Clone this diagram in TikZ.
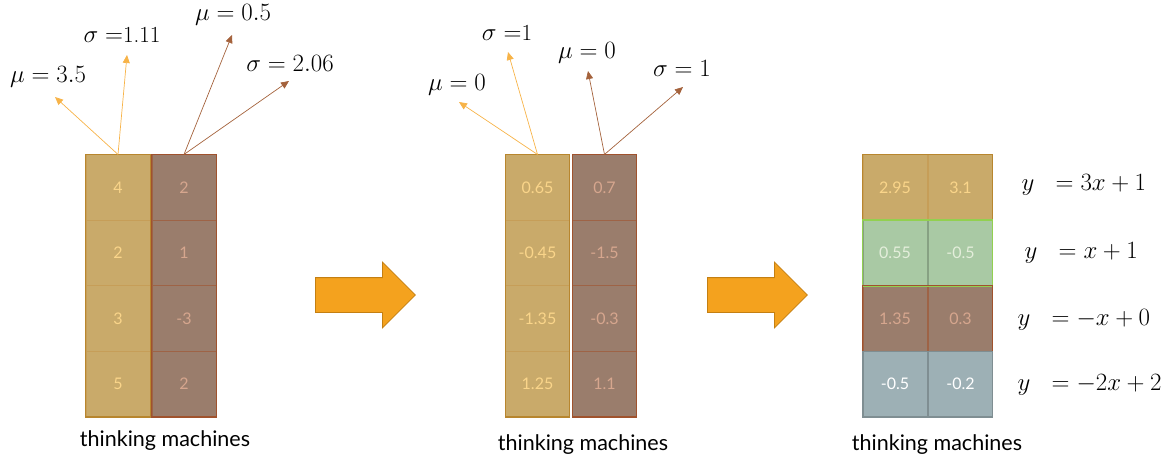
\documentclass[tikz,border=0pt]{standalone}
\usepackage{fontspec}
\setsansfont{Lato}
\usetikzlibrary{positioning}
\usetikzlibrary{arrows.meta}
\usetikzlibrary{shapes.arrows}
\definecolor{goldfill}{HTML}{C9AA6A}
\definecolor{golddraw}{HTML}{B8862E}
\definecolor{goldtext}{HTML}{FAD58A}
\definecolor{brownfill}{HTML}{9A7D6C}
\definecolor{browndraw}{HTML}{A0522D}
\definecolor{browntext}{HTML}{D6A68E}
\definecolor{greenfill}{HTML}{A9C9A4}
\definecolor{greendraw}{HTML}{92D050}
\definecolor{greentext}{HTML}{E4EEDB}
\definecolor{slatefill}{HTML}{9DB0B5}
\definecolor{slatedraw}{HTML}{7F8E92}
\definecolor{arroworange}{HTML}{F4A21E}
\definecolor{arrowdraw}{HTML}{C47F12}
\definecolor{statgold}{HTML}{F7B348}
\definecolor{statbrown}{HTML}{A4623C}
\tikzset{x=1pt, y=-1pt,
    cell/.style={
        draw, line width=0.6pt,
        minimum width=64pt, minimum height=65.5pt,
        inner sep=0pt,
        font=\sffamily\fontsize{16}{16}\selectfont},
    goldcell/.style={cell, fill=goldfill, draw=golddraw!80!white, text=goldtext},
    browncell/.style={cell, fill=brownfill, draw=browndraw!60!brownfill, text=browntext},
    greencell/.style={cell, fill=greenfill, draw=greenfill!80!black, text=greentext},
    slatecell/.style={cell, fill=slatefill, draw=slatedraw, text=white},
    stat/.style={font=\fontsize{23}{23}\selectfont},
    eqn/.style={font=\fontsize{24}{24}\selectfont, anchor=west},
    caption/.style={font=\sffamily\fontsize{21.5}{21.5}\selectfont},
    goldstat/.style={draw=statgold, -{Triangle[length=8pt,width=7pt]}, line width=0.7pt},
    brownstat/.style={draw=statbrown, -{Triangle[length=8pt,width=7pt]}, line width=0.7pt},
    bigarrow/.style={
        single arrow, draw=arrowdraw, fill=arroworange, line width=0.8pt,
        inner xsep=0pt, inner ysep=17pt,
        single arrow head extend=15.5pt,
        minimum height=100pt, anchor=tail}}

\begin{document}
\begin{tikzpicture}
    \useasboundingbox (0,0) rectangle (1171,461);

    % raw inputs
    \foreach \v [count=\i] in {4,2,3,5}
        \node[goldcell] (rawL\i) at (118,{187.5+65.5*(\i-1)}) {\v};
    \foreach \v [count=\i] in {2,1,-3,2}
        \node[browncell] (rawR\i) at (184,{187.5+65.5*(\i-1)}) {\v};
    \draw[golddraw, line width=1.2pt] (rawL1.north west) rectangle (rawL4.south east);
    \draw[browndraw, line width=1.2pt] (rawR1.north west) rectangle (rawR4.south east);
    \node[caption] (rawcap) at (165,441) {thinking machines};

    \node[stat] (rawmuL) at (48,77) {$\mu = 3.5$};
    \node[stat] (rawsdL) at (122,35) {$\sigma =$1.11};
    \node[stat] (rawmuR) at (233,15) {$\mu = 0.5$};
    \node[stat] (rawsdR) at (290,63) {$\sigma = 2.06$};
    \coordinate (rawmuLtip) at (55,97);
    \coordinate (rawsdLtip) at (127,55);
    \coordinate (rawmuRtip) at (232,35);
    \coordinate (rawsdRtip) at (289,81);
    \draw[goldstat] (rawL1.north) -- (rawmuLtip);
    \draw[goldstat] (rawL1.north) -- (rawsdLtip);
    \draw[brownstat] (rawR1.north) -- (rawmuRtip);
    \draw[brownstat] (rawR1.north) -- (rawsdRtip);

    \node[bigarrow] (step1) at (315,295) {};

    % normalized per column
    \foreach \v [count=\i] in {0.65,-0.45,-1.35,1.25}
        \node[goldcell] (normL\i) at (537.5,{187.5+65.5*(\i-1)}) {\v};
    \foreach \v [count=\i] in {0.7,-1.5,-0.3,1.1}
        \node[browncell] (normR\i) at (604.5,{187.5+65.5*(\i-1)}) {\v};
    \draw[golddraw, line width=1.2pt] (normL1.north west) rectangle (normL4.south east);
    \draw[browndraw, line width=1.2pt] (normR1.north west) rectangle (normR4.south east);
    \node[caption] (normcap) at (583,445) {thinking machines};

    \node[stat] (normmuL) at (457,85) {$\mu = 0$};
    \node[stat] (normsdL) at (507,33) {$\sigma =$1};
    \node[stat] (normmuR) at (587,53) {$\mu = 0$};
    \node[stat] (normsdR) at (682,68) {$\sigma = 1$};
    \coordinate (normmuLtip) at (459,102);
    \coordinate (normsdLtip) at (508,52);
    \coordinate (normmuRtip) at (588,71);
    \coordinate (normsdRtip) at (683,87);
    \draw[goldstat] (normL1.north) -- (normmuLtip);
    \draw[goldstat] (normL1.north) -- (normsdLtip);
    \draw[brownstat] (normR1.north) -- (normmuRtip);
    \draw[brownstat] (normR1.north) -- (normsdRtip);

    \node[bigarrow] (step2) at (707,295) {};

    % scaled and shifted per row
    \node[goldcell] (outL1) at (895,187.5) {2.95};
    \node[goldcell] (outR1) at (960.5,187.5) {3.1};
    \node[greencell] (outL2) at (895,253) {0.55};
    \node[greencell] (outR2) at (960.5,253) {-0.5};
    \node[browncell] (outL3) at (895,318.5) {1.35};
    \node[browncell] (outR3) at (960.5,318.5) {0.3};
    \node[slatecell] (outL4) at (895,384) {-0.5};
    \node[slatecell] (outR4) at (960.5,384) {-0.2};
    \draw[golddraw, line width=1.2pt] (outL1.north west) rectangle (outR1.south east);
    \draw[greendraw, line width=1.2pt] (outL2.north west) rectangle (outR2.south east);
    \draw[browndraw, line width=1.2pt] (outL3.north west) rectangle (outR3.south east);
    \draw[slatedraw, line width=0.8pt] (outL4.north west) rectangle (outR4.south east);
    \node[caption] (outcap) at (937,445) {thinking machines};

    \node[eqn] (eq1) at (1018,185) {$y\ \ = 3x + 1$};
    \node[eqn] (eq2) at (1021,253) {$y\ \ = x + 1$};
    \node[eqn] (eq3) at (1014,320) {$y\ \ = -x + 0$};
    \node[eqn] (eq4) at (1014,385) {$y\ \ = -2x + 2$};
\end{tikzpicture}
\end{document}
